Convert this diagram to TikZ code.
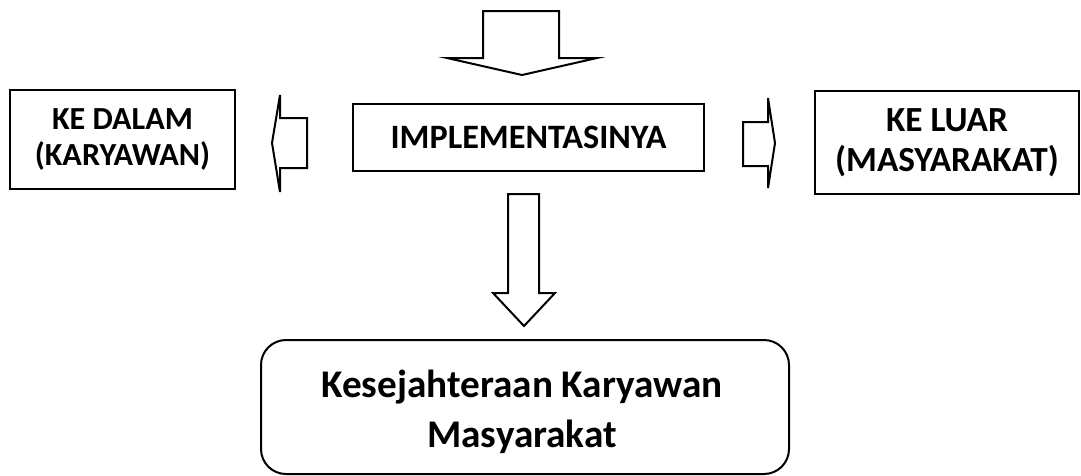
\documentclass[tikz,border=0pt]{standalone}
\usepackage{fontspec}
\setmainfont{Carlito}
\usetikzlibrary{positioning}

\begin{document}
\begin{tikzpicture}[x=1pt,y=-1pt,line width=2pt,line join=miter]
  \tikzstyle{box}=[draw=black,rectangle,align=center,inner sep=0pt,font=\bfseries]
  \tikzstyle{blockarrow}=[draw=black,fill=white,line width=2pt]
  \useasboundingbox (0,0) rectangle (1081,475);

  \node[box,minimum width=225pt,minimum height=99pt,
        font=\fontsize{32.2}{35.7}\selectfont\bfseries] (dalam) at (122.5,139.5)
        {KE DALAM\\(KARYAWAN)};
  \node[box,minimum width=351pt,minimum height=67pt,
        font=\fontsize{34.2}{38}\selectfont\bfseries] (impl) at (528.5,137.5)
        {IMPLEMENTASINYA};
  \node[box,minimum width=264pt,minimum height=103pt,
        font=\fontsize{35.3}{40}\selectfont\bfseries] (luar) at (947,142.5)
        {KE LUAR\\(MASYARAKAT)};
  \node[box,rounded corners=25pt,minimum width=528pt,minimum height=134pt]
        (sejahtera) at (525,407) {};
  \node[align=center,inner sep=0pt,font=\fontsize{39.2}{50}\selectfont\bfseries]
        (sejahteraText) at ([xshift=-3pt,yshift=-5pt]sejahtera.center)
        {Kesejahteraan Karyawan\\Masyarakat};

  % block arrows
  \draw[blockarrow] (483,11) -- (559,11) -- (559,58) -- (597,58) -- (522,75)
        -- (447,58) -- (483,58) -- cycle;
  \draw[blockarrow] (307,118) -- (307,168) -- (280,168) -- (280,192) -- (272,143)
        -- (280,95) -- (280,118) -- cycle;
  \draw[blockarrow] (743,122) -- (768,122) -- (768,98) -- (775,143) -- (768,188)
        -- (768,166) -- (743,166) -- cycle;
  \draw[blockarrow] (508,194) -- (539,194) -- (539,293) -- (555,293) -- (524,326)
        -- (493,293) -- (508,293) -- cycle;
\end{tikzpicture}
\end{document}
